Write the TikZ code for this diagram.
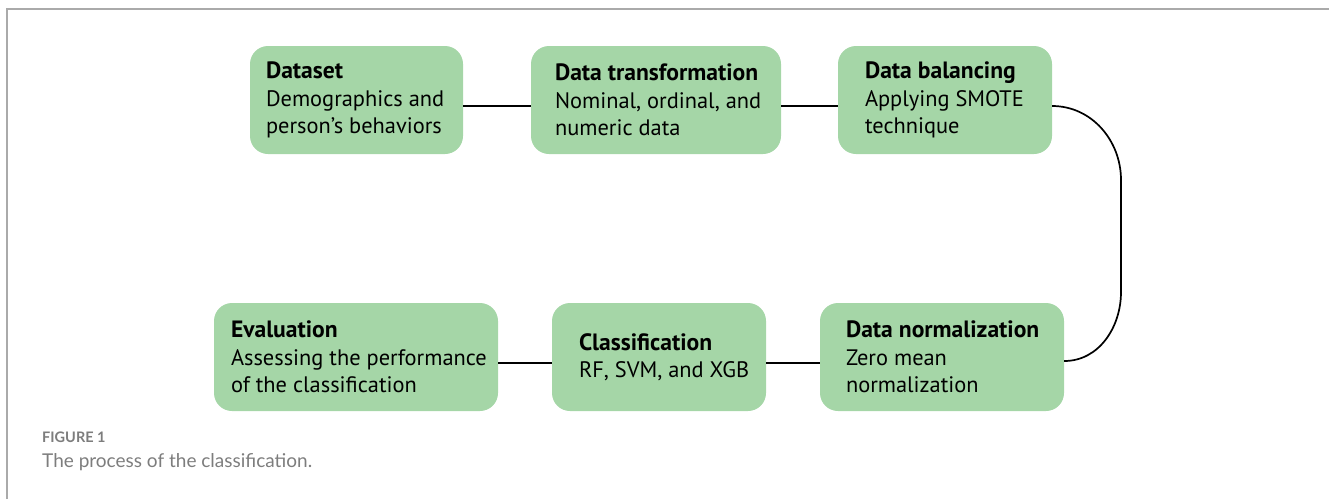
\documentclass[tikz,border=0pt]{standalone}
\usepackage{fontspec}
\setmainfont{PT Sans}
\newfontfamily\capfont{Lato}
\definecolor{boxgreen}{RGB}{165,214,167}
\definecolor{framegray}{RGB}{170,170,170}
\definecolor{capgray}{RGB}{125,125,125}
\tikzset{
  stage/.style={fill=boxgreen, rounded corners=18pt, minimum height=108pt, inner sep=0pt},
  stagetext/.style={anchor=west, align=left, inner sep=0pt, font=\fontsize{22.4}{27.5}\selectfont},
  link/.style={draw=black, line width=1.7pt},
}
\newcommand{\stagetitle}[1]{{\fontsize{23.6}{27.5}\selectfont\bfseries #1}}
\begin{document}
\begin{tikzpicture}[x=1pt,y=-1pt]
\useasboundingbox (0,0) rectangle (1329,499);
% frame
\draw[framegray, line width=1.5pt] (7,499) -- (7,9) -- (1329,9);

% top row
\node[stage, minimum width=213pt] (ds) at (356.5,100) {};
\node[stage, minimum width=250pt] (dt) at (656,100) {};
\node[stage, minimum width=214pt] (db) at (945,100) {};
% bottom row
\node[stage, minimum width=284pt] (ev) at (356,357) {};
\node[stage, minimum width=214pt] (cl) at (659,357) {};
\node[stage, minimum width=244pt] (dn) at (942,357) {};

\node[stagetext] (ds-t) at ([xshift=16pt]ds.west) {\stagetitle{Dataset}\\Demographics and\\person’s behaviors};
\node[stagetext] (dt-t) at ([xshift=24pt]dt.west) {\stagetitle{Data transformation}\\Nominal, ordinal, and\\numeric data};
\node[stagetext] (db-t) at ([xshift=27pt]db.west) {\stagetitle{Data balancing}\\Applying SMOTE\\technique};
\node[stagetext] (ev-t) at ([xshift=17pt]ev.west) {\stagetitle{Evaluation}\\Assessing the performance\\of the classification};
\node[stagetext] (cl-t) at ([xshift=27pt]cl.west) {\stagetitle{Classification}\\RF, SVM, and XGB};
\node[stagetext] (dn-t) at ([xshift=26pt]dn.west) {\stagetitle{Data normalization}\\Zero mean\\normalization};

% connectors
\draw[link] ([yshift=-6pt]ds.east) -- ([yshift=-6pt]dt.west);
\draw[link] ([yshift=-6pt]dt.east) -- ([yshift=-6pt]db.west);
\coordinate (bend1) at (1121,180);
\coordinate (bend2) at (1121,292);
\draw[link] ([yshift=-6pt]db.east) to[out=0,in=90] (bend1) -- (bend2) to[out=-90,in=0] ([yshift=-4pt]dn.east);
\draw[link] ([yshift=-6pt]dn.west) -- ([yshift=-6pt]cl.east);
\draw[link] ([yshift=-6pt]cl.west) -- ([yshift=-6pt]ev.east);

% caption
\node[anchor=west, inner sep=0pt, text=capgray, font=\capfont\bfseries\fontsize{14.5}{16}\selectfont] (fig) at (42,437) {FIGURE 1};
\node[anchor=west, inner sep=0pt, text=capgray, font=\capfont\fontsize{19}{22}\selectfont] (cap) at (42,462) {The process of the classification.};
\end{tikzpicture}
\end{document}
